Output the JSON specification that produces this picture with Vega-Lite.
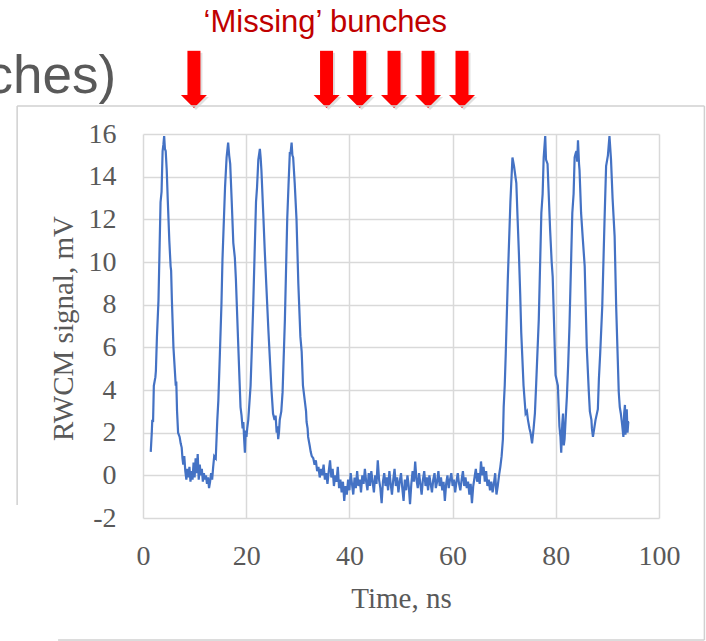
{
  "$schema": "https://vega.github.io/schema/vega-lite/v6.json",
  "width": 516,
  "height": 384,
  "autosize": {"type": "none"},
  "padding": {"left": 143, "top": 134, "right": 47, "bottom": 123},
  "background": "white",
  "config": {"view": {"stroke": null}},
  "datasets": {
    "signal": [
      {"t":1.5,"v":1.1},{"t":1.7,"v":2.0},{"t":1.8,"v":2.6},{"t":1.95,"v":2.5},{"t":2.1,"v":4.2},{"t":2.4,"v":4.6},{"t":2.5,"v":4.9},{"t":2.7,"v":6.5},{"t":3.0,"v":8.2},{"t":3.4,"v":12.8},{"t":3.6,"v":13.3},{"t":3.8,"v":15.2},{"t":3.95,"v":15.5},{"t":4.1,"v":15.9},{"t":4.25,"v":15.3},{"t":4.4,"v":15.2},{"t":4.6,"v":14.3},{"t":4.8,"v":12.9},{"t":5.1,"v":11.0},{"t":5.35,"v":9.8},{"t":5.45,"v":9.6},{"t":5.6,"v":8.2},{"t":5.9,"v":6.0},{"t":6.1,"v":5.2},{"t":6.35,"v":4.2},{"t":6.45,"v":4.4},{"t":6.6,"v":3.0},{"t":6.8,"v":2.0},{"t":7.1,"v":1.8},{"t":7.3,"v":1.5},{"t":7.5,"v":1.3},{"t":7.65,"v":0.8},{"t":7.8,"v":0.5},
      {"t":8.0,"v":0.9},{"t":8.2,"v":0.2},{"t":8.4,"v":-0.2},{"t":8.6,"v":0.3},{"t":8.8,"v":-0.1},{"t":9.0,"v":0.4},{"t":9.2,"v":-0.3},{"t":9.4,"v":0.2},{"t":9.6,"v":-0.2},{"t":9.8,"v":0.6},{"t":10.0,"v":-0.1},{"t":10.2,"v":0.8},{"t":10.4,"v":0.1},{"t":10.6,"v":1.0},{"t":10.8,"v":-0.2},{"t":11.0,"v":0.5},{"t":11.2,"v":0.0},{"t":11.4,"v":0.3},{"t":11.6,"v":-0.3},{"t":11.8,"v":0.1},{"t":12.0,"v":-0.2},{"t":12.2,"v":0.0},{"t":12.4,"v":-0.4},{"t":12.6,"v":-0.1},{"t":12.8,"v":-0.6},{"t":13.0,"v":-0.3},{"t":13.2,"v":0.1},{"t":13.4,"v":-0.2},{"t":13.6,"v":0.4},
      {"t":13.8,"v":0.9},{"t":14.1,"v":0.8},{"t":14.4,"v":2.6},{"t":14.6,"v":3.5},{"t":14.9,"v":5.7},{"t":15.2,"v":8.0},{"t":15.4,"v":10.1},{"t":15.9,"v":13.5},{"t":16.2,"v":14.9},{"t":16.5,"v":15.6},{"t":16.7,"v":15.0},{"t":16.9,"v":14.6},{"t":17.2,"v":12.8},{"t":17.5,"v":10.9},{"t":17.8,"v":10.2},{"t":18.0,"v":9.2},{"t":18.4,"v":6.5},{"t":18.7,"v":4.5},{"t":18.9,"v":3.2},{"t":19.1,"v":2.8},{"t":19.3,"v":2.2},{"t":19.45,"v":2.5},{"t":19.6,"v":1.7},{"t":19.75,"v":1.06},{"t":19.9,"v":2.1},{"t":20.05,"v":1.8},{"t":20.2,"v":2.2},{"t":20.4,"v":2.6},{"t":20.85,"v":4.2},{"t":21.1,"v":6.0},{"t":21.35,"v":7.9},{"t":21.9,"v":12.8},{"t":22.1,"v":13.5},{"t":22.35,"v":14.8},{"t":22.65,"v":15.3},{"t":22.8,"v":14.9},{"t":22.95,"v":14.3},{"t":23.3,"v":12.3},{"t":23.6,"v":10.5},{"t":23.9,"v":8.9},{"t":24.3,"v":6.8},{"t":24.6,"v":5.4},{"t":24.9,"v":4.0},{"t":25.2,"v":2.9},{"t":25.5,"v":2.6},{"t":25.7,"v":2.8},{"t":25.9,"v":2.0},{"t":26.05,"v":2.3},{"t":26.2,"v":1.7},{"t":26.35,"v":2.0},{"t":26.5,"v":2.6},{"t":26.8,"v":3.0},{"t":27.05,"v":3.9},{"t":27.5,"v":7.3},{"t":27.95,"v":12.0},{"t":28.2,"v":13.6},{"t":28.45,"v":15.1},{"t":28.6,"v":15.1},{"t":28.8,"v":15.6},{"t":28.95,"v":15.0},{"t":29.1,"v":14.9},{"t":29.4,"v":13.7},{"t":29.75,"v":12.0},{"t":30.1,"v":9.0},{"t":30.5,"v":6.5},{"t":30.75,"v":5.8},{"t":31.0,"v":4.2},{"t":31.35,"v":3.5},{"t":31.6,"v":3.0},{"t":31.7,"v":2.5},{"t":31.9,"v":2.2},{"t":32.0,"v":1.8},{"t":32.3,"v":1.4},{"t":32.5,"v":1.1},{"t":32.7,"v":0.9},
      {"t":33.0,"v":0.8},{"t":33.25,"v":0.5},{"t":33.5,"v":0.7},{"t":33.75,"v":0.2},{"t":34.0,"v":0.4},{"t":34.25,"v":-0.1},{"t":34.5,"v":0.3},{"t":34.75,"v":0.0},{"t":35.0,"v":0.5},{"t":35.25,"v":-0.2},{"t":35.5,"v":0.1},{"t":35.75,"v":-0.4},{"t":36.0,"v":0.2},{"t":36.25,"v":0.7},{"t":36.5,"v":-0.1},{"t":36.75,"v":0.3},{"t":37.0,"v":-0.5},{"t":37.25,"v":0.0},{"t":37.5,"v":-0.3},{"t":37.75,"v":0.4},{"t":38.0,"v":-0.6},{"t":38.25,"v":-0.2},{"t":38.5,"v":-0.8},{"t":38.75,"v":-0.3},{"t":39.0,"v":-1.2},{"t":39.25,"v":-0.5},{"t":39.5,"v":-0.9},{"t":39.75,"v":-0.2},{"t":40.0,"v":-0.7},{"t":40.25,"v":0.1},{"t":40.5,"v":-0.4},{"t":40.75,"v":-0.9},{"t":41.0,"v":-0.1},{"t":41.25,"v":-0.6},{"t":41.5,"v":0.2},{"t":41.75,"v":-0.5},{"t":42.0,"v":-0.2},{"t":42.25,"v":-0.8},{"t":42.5,"v":0.0},{"t":42.75,"v":-0.4},{"t":43.0,"v":0.3},{"t":43.25,"v":-0.3},{"t":43.5,"v":-0.7},{"t":43.75,"v":0.1},{"t":44.0,"v":-0.5},{"t":44.25,"v":0.2},{"t":44.5,"v":-0.3},{"t":44.75,"v":-0.8},{"t":45.0,"v":0.0},{"t":45.25,"v":-0.4},{"t":45.5,"v":0.7},{"t":45.75,"v":-0.2},{"t":46.0,"v":-0.6},{"t":46.25,"v":-1.3},{"t":46.5,"v":-0.3},{"t":46.75,"v":0.1},{"t":47.0,"v":-0.5},{"t":47.25,"v":-0.1},{"t":47.5,"v":-0.7},{"t":47.75,"v":0.2},{"t":48.0,"v":-0.4},{"t":48.25,"v":-0.9},{"t":48.5,"v":-0.2},{"t":48.75,"v":0.3},{"t":49.0,"v":-0.5},{"t":49.25,"v":-0.1},{"t":49.5,"v":-0.8},{"t":49.75,"v":-0.3},{"t":50.0,"v":0.1},{"t":50.25,"v":-0.6},{"t":50.5,"v":-1.2},{"t":50.75,"v":-0.2},{"t":51.0,"v":-0.7},{"t":51.25,"v":0.0},{"t":51.5,"v":-0.5},{"t":51.75,"v":-1.35},{"t":52.0,"v":-0.4},{"t":52.25,"v":0.2},{"t":52.5,"v":-0.3},{"t":52.75,"v":0.65},{"t":53.0,"v":-0.2},{"t":53.25,"v":-0.6},{"t":53.5,"v":0.1},{"t":53.75,"v":-0.4},{"t":54.0,"v":-0.9},{"t":54.25,"v":-0.2},{"t":54.5,"v":0.2},{"t":54.75,"v":-0.5},{"t":55.0,"v":-0.1},{"t":55.25,"v":-0.7},{"t":55.5,"v":0.0},{"t":55.75,"v":-0.4},{"t":56.0,"v":-0.8},{"t":56.25,"v":-0.2},{"t":56.5,"v":0.1},{"t":56.75,"v":-0.6},{"t":57.0,"v":-0.3},{"t":57.25,"v":0.2},{"t":57.5,"v":-0.5},{"t":57.75,"v":-0.1},{"t":58.0,"v":-0.7},{"t":58.25,"v":-0.3},{"t":58.5,"v":-1.2},{"t":58.75,"v":-0.4},{"t":59.0,"v":0.0},{"t":59.25,"v":-0.6},{"t":59.5,"v":-0.2},{"t":59.75,"v":0.1},{"t":60.0,"v":-0.5},{"t":60.25,"v":-0.2},{"t":60.5,"v":-0.8},{"t":60.75,"v":-0.3},{"t":61.0,"v":0.1},{"t":61.25,"v":-0.4},{"t":61.5,"v":-0.7},{"t":61.75,"v":-0.2},{"t":62.0,"v":0.2},{"t":62.25,"v":-0.5},{"t":62.5,"v":-0.1},{"t":62.75,"v":-0.6},{"t":63.0,"v":-0.3},{"t":63.25,"v":-0.9},{"t":63.5,"v":-0.4},{"t":63.75,"v":-1.3},{"t":64.0,"v":-0.5},{"t":64.25,"v":-0.1},{"t":64.5,"v":0.3},{"t":64.75,"v":-0.3},{"t":65.0,"v":0.1},{"t":65.25,"v":-0.4},{"t":65.5,"v":0.65},{"t":65.75,"v":0.0},{"t":66.0,"v":0.4},{"t":66.25,"v":-0.3},{"t":66.5,"v":0.2},{"t":66.75,"v":-0.5},{"t":67.0,"v":-0.2},{"t":67.25,"v":-0.7},{"t":67.5,"v":-0.3},{"t":67.75,"v":-0.8},{"t":68.0,"v":-0.4},{"t":68.25,"v":0.1},{"t":68.5,"v":-0.9},{"t":68.75,"v":-0.5},{"t":69.0,"v":0.0},{"t":69.25,"v":0.4},{"t":69.5,"v":0.9},
      {"t":69.75,"v":1.7},{"t":69.9,"v":3.2},{"t":70.1,"v":4.2},{"t":70.3,"v":5.7},{"t":70.7,"v":9.2},{"t":71.2,"v":12.8},{"t":71.6,"v":14.9},{"t":71.9,"v":14.5},{"t":72.35,"v":13.7},{"t":72.6,"v":12.0},{"t":72.85,"v":10.4},{"t":73.1,"v":8.5},{"t":73.3,"v":6.7},{"t":73.5,"v":5.6},{"t":73.75,"v":4.2},{"t":74.15,"v":2.9},{"t":74.4,"v":3.0},{"t":74.6,"v":2.6},{"t":74.9,"v":2.2},{"t":75.1,"v":2.0},{"t":75.4,"v":1.5},{"t":75.7,"v":2.2},{"t":75.95,"v":2.9},{"t":76.2,"v":4.3},{"t":76.7,"v":7.3},{"t":77.2,"v":12.3},{"t":77.45,"v":13.2},{"t":77.65,"v":14.9},{"t":77.95,"v":15.9},{"t":78.1,"v":14.8},{"t":78.4,"v":14.6},{"t":78.9,"v":11.5},{"t":79.2,"v":10.0},{"t":79.4,"v":9.3},{"t":79.95,"v":4.7},{"t":80.4,"v":4.2},{"t":80.7,"v":2.3},{"t":80.9,"v":1.8},{"t":81.05,"v":1.06},{"t":81.25,"v":2.4},{"t":81.4,"v":2.9},{"t":81.55,"v":1.4},{"t":81.7,"v":1.7},{"t":81.9,"v":2.6},{"t":82.15,"v":3.7},{"t":82.4,"v":5.2},{"t":82.65,"v":7.0},{"t":83.2,"v":12.3},{"t":83.45,"v":13.2},{"t":83.65,"v":14.9},{"t":83.85,"v":15.1},{"t":84.0,"v":15.2},{"t":84.15,"v":14.7},{"t":84.3,"v":15.7},{"t":84.5,"v":14.6},{"t":84.6,"v":14.3},{"t":84.9,"v":12.3},{"t":85.2,"v":11.2},{"t":85.6,"v":9.8},{"t":86.0,"v":6.0},{"t":86.4,"v":3.9},{"t":86.6,"v":3.0},{"t":86.9,"v":2.6},{"t":87.0,"v":2.2},{"t":87.2,"v":1.8},{"t":87.45,"v":2.2},{"t":87.7,"v":2.6},{"t":88.15,"v":3.1},{"t":88.35,"v":4.5},{"t":88.6,"v":5.7},{"t":89.0,"v":7.9},{"t":89.45,"v":12.0},{"t":89.75,"v":14.5},{"t":90.1,"v":15.0},{"t":90.4,"v":15.9},{"t":90.7,"v":14.8},{"t":91.0,"v":13.0},{"t":91.4,"v":11.2},{"t":91.7,"v":7.9},{"t":92.2,"v":3.9},{"t":92.4,"v":3.2},{"t":92.6,"v":2.9},{"t":92.85,"v":2.4},{"t":93.1,"v":1.8},{"t":93.25,"v":2.9},{"t":93.4,"v":3.3},{"t":93.5,"v":1.9},{"t":93.6,"v":2.5},{"t":93.75,"v":3.1},{"t":93.9,"v":2.0},{"t":94.05,"v":2.5},{"t":94.2,"v":2.5}
    ],
    "missing": [
      {"t": 9.87}, {"t": 35.57}, {"t": 42.0}, {"t": 48.65}, {"t": 55.24}, {"t": 61.82}
    ]
  },
  "layer": [
    {
      "data": {"name": "signal"},
      "mark": {"type": "line", "color": "#4472C4", "strokeWidth": 2.2},
      "encoding": {
        "x": {
          "field": "t", "type": "quantitative",
          "scale": {"domain": [0, 100], "nice": false, "zero": false},
          "axis": {
            "values": [0, 20, 40, 60, 80, 100],
            "grid": true, "gridColor": "#d9d9d9", "gridWidth": 1.5,
            "domain": false, "ticks": false, "tickSize": 0,
            "labelFont": "Liberation Serif", "labelFontSize": 28, "labelColor": "#595959",
            "labelPadding": 24, "labelFlush": false, "labelOverlap": false,
            "title": "Time, ns", "titleFont": "Liberation Serif", "titleFontSize": 29,
            "titleFontWeight": "normal", "titleColor": "#595959",
            "titleBaseline": "alphabetic", "titleY": 89
          }
        },
        "y": {
          "field": "v", "type": "quantitative",
          "scale": {"domain": [-2, 16], "nice": false, "zero": false},
          "axis": {
            "values": [-2, 0, 2, 4, 6, 8, 10, 12, 14, 16],
            "labelExpr": "replace(datum.label, '−', '-')",
            "grid": true, "gridColor": "#d9d9d9", "gridWidth": 1.5,
            "domain": false, "ticks": false, "tickSize": 0,
            "labelFont": "Liberation Serif", "labelFontSize": 28, "labelColor": "#595959",
            "labelPadding": 27, "labelFlush": false, "labelOverlap": false,
            "title": "RWCM signal, mV", "titleFont": "Liberation Serif", "titleFontSize": 29,
            "titleFontWeight": "normal", "titleColor": "#595959",
            "titleAngle": 270, "titleBaseline": "alphabetic", "titleAlign": "center",
            "titleX": -71, "titleY": 194
          }
        }
      }
    },
    {
      "data": {"name": "missing"},
      "mark": {"type": "rule", "color": "#000000", "opacity": 0.12, "strokeWidth": 13, "strokeCap": "butt", "xOffset": 2, "yOffset": 2},
      "encoding": {
        "x": {"field": "t", "type": "quantitative"},
        "y": {"datum": 19.9},
        "y2": {"datum": 17.78}
      }
    },
    {
      "data": {"name": "missing"},
      "mark": {"type": "point", "shape": "M-1,-0.5L1,-0.5L0,0.5Z", "filled": true, "color": "#000000", "opacity": 0.12, "size": 676, "strokeWidth": 0, "xOffset": 2, "yOffset": 2},
      "encoding": {
        "x": {"field": "t", "type": "quantitative"},
        "y": {"datum": 17.52}
      }
    },
    {
      "data": {"name": "missing"},
      "mark": {"type": "rule", "color": "#FF0000", "strokeWidth": 13, "strokeCap": "butt"},
      "encoding": {
        "x": {"field": "t", "type": "quantitative"},
        "y": {"datum": 19.9},
        "y2": {"datum": 17.78}
      }
    },
    {
      "data": {"name": "missing"},
      "mark": {"type": "point", "shape": "M-1,-0.5L1,-0.5L0,0.5Z", "filled": true, "color": "#FF0000", "opacity": 1, "size": 676, "strokeWidth": 0},
      "encoding": {
        "x": {"field": "t", "type": "quantitative"},
        "y": {"datum": 17.52}
      }
    },
    {
      "data": {"values": [{}]},
      "mark": {"type": "text", "text": "‘Missing’ bunches", "font": "Liberation Sans", "fontSize": 31, "color": "#C00000", "align": "center", "baseline": "alphabetic"},
      "encoding": {
        "x": {"datum": 35.34},
        "y": {"datum": 20.8}
      }
    },
    {
      "data": {"values": [{}]},
      "mark": {"type": "text", "text": "ches)", "font": "Liberation Sans", "fontSize": 53, "color": "#595959", "align": "right", "baseline": "alphabetic"},
      "encoding": {
        "x": {"datum": -5.2},
        "y": {"datum": 17.91}
      }
    },
    {
      "data": {"values": [{}]},
      "mark": {"type": "rule", "color": "#d0d0d0", "strokeWidth": 1.5},
      "encoding": {"x": {"datum": -24.39}, "x2": {"datum": 108.8}, "y": {"datum": 17.31}}
    },
    {
      "data": {"values": [{}]},
      "mark": {"type": "rule", "color": "#d0d0d0", "strokeWidth": 1.5},
      "encoding": {"x": {"datum": -24.39}, "y": {"datum": 17.31}, "y2": {"datum": -1.39}}
    },
    {
      "data": {"values": [{}]},
      "mark": {"type": "rule", "color": "#d0d0d0", "strokeWidth": 1.5},
      "encoding": {"x": {"datum": -16.46}, "x2": {"datum": 108.8}, "y": {"datum": -7.72}}
    },
    {
      "data": {"values": [{}]},
      "mark": {"type": "rule", "color": "#d0d0d0", "strokeWidth": 1.5},
      "encoding": {"x": {"datum": 108.8}, "y": {"datum": 17.31}, "y2": {"datum": -7.72}}
    }
  ]
}
